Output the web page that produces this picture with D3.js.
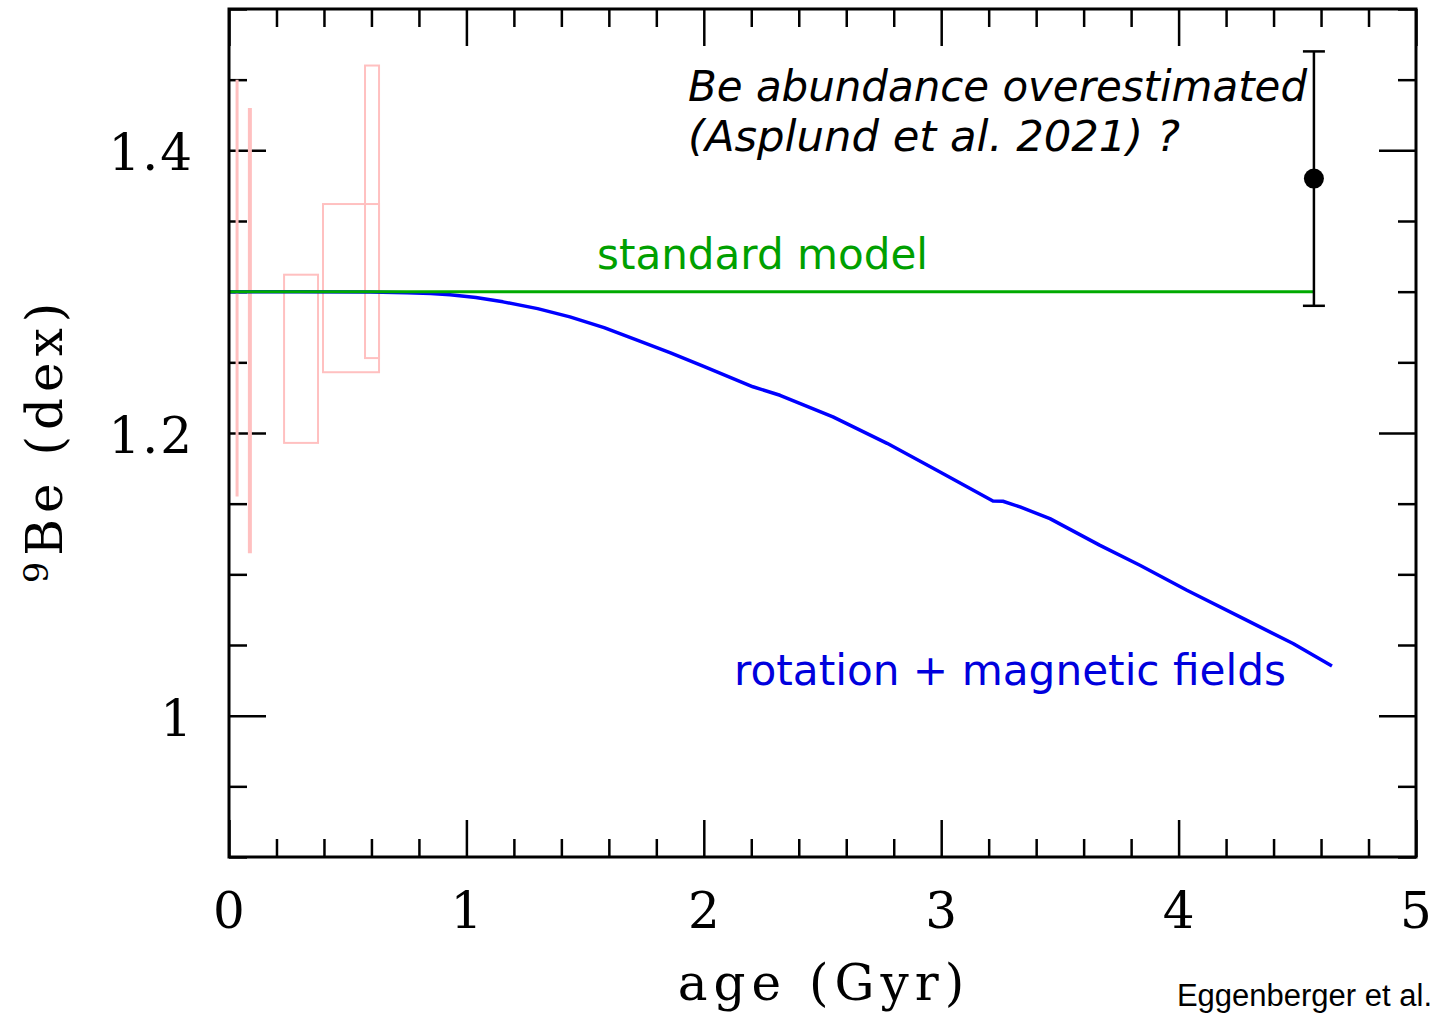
<!DOCTYPE html>
<html>
<head>
<meta charset="utf-8">
<script src="https://cdn.jsdelivr.net/npm/d3@7"></script>
<style>
  body { margin: 0; background: #fff; }
  svg { display: block; }
</style>
</head>
<body>
<script>
// rotation + magnetic fields model
var rotAge = [0, 0.3, 0.594, 0.75, 0.85, 0.931, 1.04, 1.154, 1.3, 1.436, 1.58, 1.719, 1.86, 1.997, 2.207, 2.321, 2.544, 2.772, 2.995, 3.218, 3.26, 3.332, 3.458, 3.669, 3.837, 4.035, 4.288, 4.482, 4.646];
var rotBe  = [1.3, 1.3, 1.2997, 1.2993, 1.2987, 1.2978, 1.2958, 1.2928, 1.2880, 1.2822, 1.2745, 1.2657, 1.2567, 1.2473, 1.2327, 1.2267, 1.2114, 1.1927, 1.1724, 1.1519, 1.1517, 1.1477, 1.1394, 1.1205, 1.1064, 1.0887, 1.0674, 1.0511, 1.0351];

// standard model
var stdAge = [0, 4.57];
var stdBe  = [1.3, 1.3];

// cluster constraints (pink)
var lineAge = [0.034, 0.088];
var lineLo  = [1.155, 1.115];
var lineHi  = [1.45, 1.43];
var boxAge0 = [0.232, 0.396, 0.573];
var boxAge1 = [0.375, 0.632, 0.632];
var boxLo   = [1.193, 1.243, 1.253];
var boxHi   = [1.312, 1.362, 1.46];

// solar value
var sunAge = 4.57, sunBe = 1.38, sunErr = 0.09;

var xTicks = [0, 1, 2, 3, 4, 5];
var yTicks = [1, 1.2, 1.4];

var W = 1438, H = 1014;
var m = { left: 229, right: 1416, top: 9, bottom: 857 };

var svg = d3.select("body").append("svg")
    .attr("width", W)
    .attr("height", H);

var x = d3.scaleLinear().domain([0, 5]).range([m.left, m.right]);
var y = d3.scaleLinear().domain([0.9, 1.5]).range([m.bottom, m.top]);

var xMinor = d3.range(0, 5.001, 0.2).filter(function(v) { return Math.abs(v - Math.round(v)) > 1e-6; });
var yMinor = d3.range(0.9, 1.5001, 0.05).filter(function(v) {
    return !yTicks.some(function(t) { return Math.abs(t - v) < 1e-6; });
});

// axes (ticks on all sides)
function axisStyle(g) {
    g.select(".domain").remove();
    g.selectAll("line").attr("stroke", "#000").attr("stroke-width", 2.5);
    g.selectAll("text").remove();
}
svg.append("g").attr("transform", "translate(0," + m.bottom + ")")
    .call(d3.axisTop(x).tickValues(xTicks).tickSize(37)).call(axisStyle);
svg.append("g").attr("transform", "translate(0," + m.bottom + ")")
    .call(d3.axisTop(x).tickValues(xMinor).tickSize(18)).call(axisStyle);
svg.append("g").attr("transform", "translate(0," + m.top + ")")
    .call(d3.axisBottom(x).tickValues(xTicks).tickSize(37)).call(axisStyle);
svg.append("g").attr("transform", "translate(0," + m.top + ")")
    .call(d3.axisBottom(x).tickValues(xMinor).tickSize(18)).call(axisStyle);
svg.append("g").attr("transform", "translate(" + m.left + ",0)")
    .call(d3.axisRight(y).tickValues(yTicks).tickSize(37)).call(axisStyle);
svg.append("g").attr("transform", "translate(" + m.left + ",0)")
    .call(d3.axisRight(y).tickValues(yMinor).tickSize(18)).call(axisStyle);
svg.append("g").attr("transform", "translate(" + m.right + ",0)")
    .call(d3.axisLeft(y).tickValues(yTicks).tickSize(37)).call(axisStyle);
svg.append("g").attr("transform", "translate(" + m.right + ",0)")
    .call(d3.axisLeft(y).tickValues(yMinor).tickSize(18)).call(axisStyle);

// tick labels
var serif = "'DejaVu Serif', serif";
svg.append("g").selectAll("text")
    .data(xTicks).enter().append("text")
    .attr("x", function(d) { return x(d); })
    .attr("y", 928)
    .attr("text-anchor", "middle")
    .attr("font-family", serif)
    .attr("font-size", 50)
    .text(function(d) { return d; });

svg.append("g").selectAll("text")
    .data(yTicks).enter().append("text")
    .attr("x", 194)
    .attr("y", function(d) { return y(d) + 20; })
    .attr("text-anchor", "end")
    .attr("font-family", serif)
    .attr("font-size", 50)
    .attr("letter-spacing", 2)
    .text(function(d) { return d === 1 ? "1" : d3.format(".1f")(d); });

// axis titles
svg.append("text")
    .attr("x", 824).attr("y", 1000)
    .attr("text-anchor", "middle")
    .attr("font-family", serif)
    .attr("font-size", 50)
    .attr("letter-spacing", 6)
    .text("age (Gyr)");

var yl = svg.append("text")
    .attr("transform", "translate(62,440) rotate(-90)")
    .attr("text-anchor", "middle")
    .attr("font-family", serif)
    .attr("font-size", 50)
    .attr("letter-spacing", 6);
yl.append("tspan").attr("font-size", 34).attr("dy", -14).text("9");
yl.append("tspan").attr("dy", 14).text("Be (dex)");

// pink constraints
var pink = "#ffc0c0";
svg.append("g").selectAll("line")
    .data(lineAge).enter().append("line")
    .attr("x1", function(d) { return x(d); })
    .attr("x2", function(d) { return x(d); })
    .attr("y1", function(d, i) { return y(lineHi[i]); })
    .attr("y2", function(d, i) { return y(lineLo[i]); })
    .attr("stroke", pink)
    .attr("stroke-width", function(d, i) { return i === 0 ? 3 : 4; });

svg.append("g").selectAll("rect")
    .data(boxAge0).enter().append("rect")
    .attr("x", function(d) { return x(d); })
    .attr("y", function(d, i) { return y(boxHi[i]); })
    .attr("width", function(d, i) { return x(boxAge1[i]) - x(d); })
    .attr("height", function(d, i) { return y(boxLo[i]) - y(boxHi[i]); })
    .attr("fill", "none")
    .attr("stroke", pink)
    .attr("stroke-width", 2);

// model curves
var line = d3.line()
    .x(function(d) { return x(d[0]); })
    .y(function(d) { return y(d[1]); });

svg.append("path")
    .datum(d3.zip(rotAge, rotBe))
    .attr("d", line)
    .attr("fill", "none")
    .attr("stroke", "#0000ff")
    .attr("stroke-width", 3.5)
    .attr("stroke-linejoin", "round");

svg.append("path")
    .datum(d3.zip(stdAge, stdBe))
    .attr("d", line)
    .attr("fill", "none")
    .attr("stroke", "#00aa00")
    .attr("stroke-width", 3);

// solar point with error bar
var eb = svg.append("g").attr("stroke", "#000").attr("stroke-width", 2.5);
eb.append("line")
    .attr("x1", x(sunAge)).attr("x2", x(sunAge))
    .attr("y1", y(sunBe + sunErr)).attr("y2", y(sunBe - sunErr));
[sunBe + sunErr, sunBe - sunErr].forEach(function(v) {
    eb.append("line")
        .attr("x1", x(sunAge) - 11).attr("x2", x(sunAge) + 11)
        .attr("y1", y(v)).attr("y2", y(v));
});
svg.append("circle")
    .attr("cx", x(sunAge)).attr("cy", y(sunBe))
    .attr("r", 10)
    .attr("fill", "#000");

// frame
svg.append("rect")
    .attr("x", m.left).attr("y", m.top)
    .attr("width", m.right - m.left)
    .attr("height", m.bottom - m.top)
    .attr("fill", "none")
    .attr("stroke", "#000")
    .attr("stroke-width", 3);

// annotations
var sans = "'DejaVu Sans', Verdana, sans-serif";
function label(txt, x0, y0, w, col, italic) {
    svg.append("text")
        .attr("x", x0).attr("y", y0)
        .attr("font-family", sans)
        .attr("font-size", 42)
        .attr("font-style", italic ? "italic" : "normal")
        .attr("fill", col)
        .attr("textLength", w)
        .attr("lengthAdjust", "spacingAndGlyphs")
        .text(txt);
}
label("Be abundance overestimated", 688, 101, 619, "#000", true);
label("(Asplund et al. 2021) ?", 688, 151, 492, "#000", true);
label("standard model", 597, 269, 331, "#00a000", false);
label("rotation + magnetic fields", 734, 685, 552, "#0000dd", false);

svg.append("text")
    .attr("x", 1432).attr("y", 1006)
    .attr("text-anchor", "end")
    .attr("font-family", "'Liberation Sans', Arial, sans-serif")
    .attr("font-size", 31)
    .text("Eggenberger et al.");
</script>
</body>
</html>
